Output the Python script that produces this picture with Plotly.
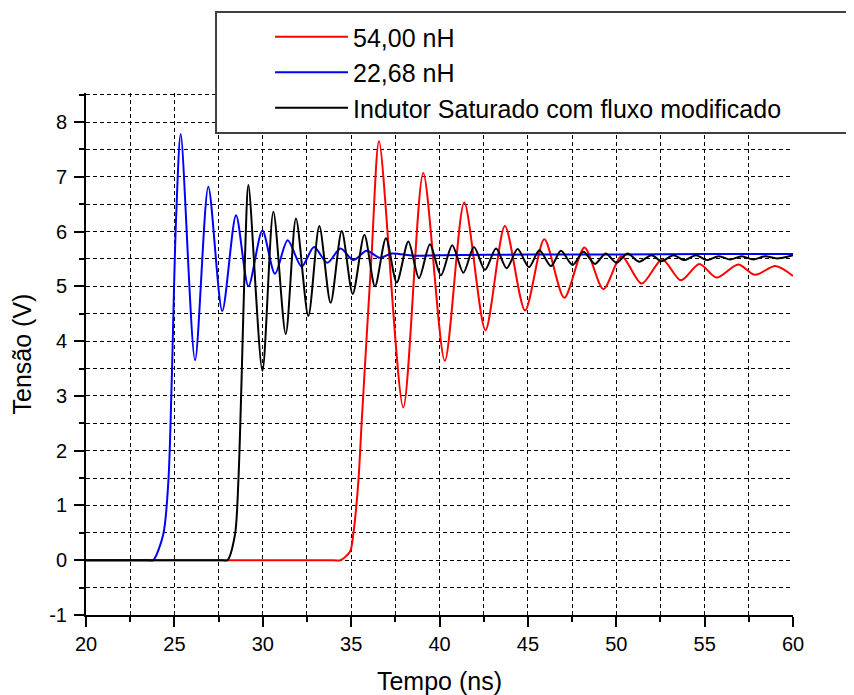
import plotly.graph_objects as go

# ---- data ----
red_t = [20.0, 34.0, 34.4, 34.94, 35.12, 35.41, 35.6, 36.16, 36.58, 37.95, 39.08, 40.3, 41.4, 42.6,
         43.7, 44.84, 45.93, 47.06, 48.2, 49.27, 50.3, 51.44, 52.6, 53.66, 54.7, 55.68,
         56.9, 57.85, 59.0, 60.0]
red_v = [0.0, 0.0, 0.0, 0.16, 0.47, 1.44, 2.54, 5.59, 7.65, 2.79, 7.07, 3.64, 6.53, 4.20,
         6.10, 4.56, 5.86, 4.79, 5.71, 4.95, 5.55, 5.05, 5.49, 5.11, 5.41, 5.16,
         5.40, 5.21, 5.37, 5.19]

blue_t = [20.0, 23.5, 23.8, 24.37, 24.66, 24.85, 25.09, 25.36, 26.17, 26.92, 27.71, 28.49, 29.19,
          29.98, 30.69, 31.41, 32.2, 32.9, 33.65, 34.4, 35.12, 35.88, 36.63, 37.3, 38.5,
          40.0, 45.0, 50.0, 55.0, 60.0]
blue_v = [0.0, 0.0, 0.0, 0.47, 1.44, 3.27, 6.19, 7.78, 3.65, 6.82, 4.55, 6.30, 5.00,
          6.02, 5.23, 5.84, 5.36, 5.72, 5.43, 5.69, 5.48, 5.65, 5.52, 5.60, 5.56,
          5.57, 5.58, 5.58, 5.59, 5.59]

black_t = [20.0, 27.7, 28.0, 28.43, 28.62, 28.8, 29.0, 29.19, 29.98, 30.6, 31.3, 31.88, 32.58,
           33.2, 33.84, 34.47, 35.09, 35.75, 36.35, 36.97, 37.58, 38.24, 38.84, 39.46,
           40.08, 40.72, 41.35, 41.95, 42.57, 43.2, 43.8, 44.42, 45.06, 45.65, 46.31,
           46.87, 47.53, 48.14, 48.8, 49.4, 50.02, 50.64, 51.29, 52.0, 52.57, 53.23,
           53.85, 54.51, 55.12, 55.81, 56.44, 57.1, 57.75, 58.42, 59.08, 60.0]
black_v = [0.0, 0.0, 0.0, 0.47, 1.44, 3.27, 5.59, 6.85, 3.46, 6.36, 4.13, 6.24, 4.46,
           6.10, 4.70, 6.01, 4.86, 5.94, 5.00, 5.88, 5.07, 5.82, 5.15, 5.77,
           5.20, 5.75, 5.25, 5.72, 5.30, 5.69, 5.33, 5.68, 5.35, 5.66, 5.37,
           5.65, 5.39, 5.63, 5.41, 5.60, 5.43, 5.60, 5.45, 5.57, 5.46, 5.57,
           5.48, 5.57, 5.48, 5.55, 5.49, 5.55, 5.49, 5.55, 5.51, 5.57]

names = ["54,00 nH", "22,68 nH", "Indutor Saturado com fluxo modificado"]
x_ticks = [20, 25, 30, 35, 40, 45, 50, 55, 60]
y_ticks = [-1, 0, 1, 2, 3, 4, 5, 6, 7, 8]
y_tick_text = ["-1", "0", "1", "2", "3", "4", "5", "6", "7", "8"]

FONT = "Liberation Sans, Arial, sans-serif"

fig = go.Figure()
for t, v, n, c in [(red_t, red_v, names[0], "#FF0000"),
                   (blue_t, blue_v, names[1], "#0000FF"),
                   (black_t, black_v, names[2], "#000000")]:
    fig.add_trace(go.Scatter(x=t, y=v, name=n, mode="lines",
                             line=dict(color=c, width=2, shape="spline", smoothing=0.8)))

grid = dict(showgrid=True, gridcolor="black", gridwidth=1, griddash="4px,3px")

# legend frame (opaque white box, partly outside the plot area)
fig.add_shape(type="rect", xref="paper", yref="paper",
              x0=0.1839, x1=1.2, y0=0.9234, y1=1.1552,
              line=dict(color="#404040", width=2), fillcolor="white", layer="above")

# the html page has an 8px body margin, so the figure is 8px smaller than the window
fig.update_layout(
    width=846, height=687,
    margin=dict(l=78, r=61, t=85, b=80, autoexpand=False),
    paper_bgcolor="white", plot_bgcolor="white",
    font=dict(family=FONT, color="black"),
    showlegend=True,
    legend=dict(x=0.2603, y=1.1513, xanchor="left", yanchor="top",
                borderwidth=0, bgcolor="rgba(0,0,0,0)",
                font=dict(size=25, family=FONT), itemwidth=73,
                tracegroupgap=0),
    xaxis=dict(range=[20, 60], tickvals=x_ticks, ticks="outside", ticklen=10, tickwidth=2,
               tickcolor="black", showline=True, linecolor="black", linewidth=2,
               zeroline=False, tickfont=dict(size=20), automargin=False,
               title=dict(text="Tempo (ns)", font=dict(size=25), standoff=22),
               minor=dict(dtick=2.5, tick0=20, ticks="outside", ticklen=5, tickwidth=2,
                          tickcolor="black", **grid),
               **grid),
    yaxis=dict(range=[-1, 8.53], tickvals=y_ticks, ticktext=y_tick_text,
               ticks="outside", ticklen=10, tickwidth=2, ticklabelstandoff=3,
               tickcolor="black", showline=True, linecolor="black", linewidth=2,
               zeroline=False, tickfont=dict(size=20), automargin=False,
               title=dict(text="Tensão (V)", font=dict(size=25), standoff=14),
               minor=dict(dtick=0.5, tick0=0, ticks="outside", ticklen=5, tickwidth=2,
                          tickcolor="black", **grid),
               **grid),
)

fig.write_html("out.html")
